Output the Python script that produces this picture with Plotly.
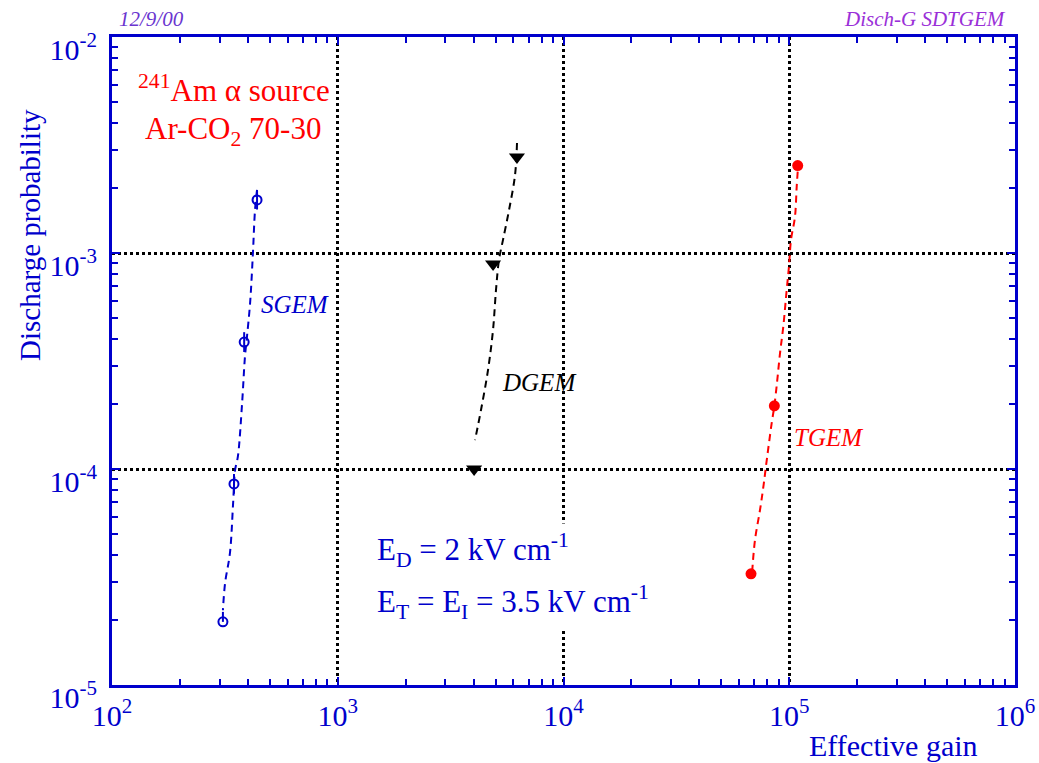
import plotly.graph_objects as go

# ---------------- data ----------------
sgem_gain = [439, 385, 347, 310]
sgem_prob = [1.76e-3, 3.87e-4, 8.53e-5, 1.96e-5]
sgem_err_up = [1.9e-4, 4.3e-5, 9.5e-6, 2.2e-6]
sgem_err_dn = [1.7e-4, 3.9e-5, 8.5e-6, 0.0]

sgem_fit_gain = [439, 430, 421, 409, 396, 388, 377, 361, 351, 344, 333, 317, 310]
sgem_fit_prob = [1.96e-3, 1.58e-3, 1.0e-3, 5.87e-4, 4.08e-4, 3.30e-4, 2.02e-4,
                 1.14e-4, 9.9e-5, 6.97e-5, 4.08e-5, 2.97e-5, 2.22e-5]

dgem_gain = [6220, 4875, 4018]
dgem_prob = [2.78e-3, 8.9e-4, 1.0e-4]

dgem_fit_gain = [6223, 6100, 5737, 5395, 5179, 5024, 4873, 4630, 4312, 4055]
dgem_fit_prob = [3.23e-3, 2.30e-3, 1.58e-3, 1.15e-3, 9.29e-4, 6.75e-4, 4.40e-4,
                 2.87e-4, 1.88e-4, 1.36e-4]

tgem_gain = [1.09e5, 8.59e4, 6.77e4]
tgem_prob = [2.54e-3, 1.96e-4, 3.27e-5]

tgem_fit_gain = [1.090e5, 1.079e5, 1.060e5, 1.018e5, 9.97e4, 9.74e4, 9.41e4, 9.10e4,
                 8.85e4, 8.59e4, 8.36e4, 7.95e4, 7.68e4, 7.42e4, 7.05e4, 6.86e4]
tgem_fit_prob = [2.38e-3, 2.03e-3, 1.47e-3, 1.15e-3, 8.64e-4, 6.74e-4, 4.56e-4, 3.43e-4,
                 2.58e-4, 1.96e-4, 1.63e-4, 1.10e-4, 8.28e-5, 6.46e-5, 4.69e-5, 3.41e-5]

x_tick_vals = [1e2, 1e3, 1e4, 1e5, 1e6]
x_tick_text = ["10<sup>2</sup>", "10<sup>3</sup>", "10<sup>4</sup>", "10<sup>5</sup>", "10<sup>6</sup>"]
y_tick_vals = [1e-5, 1e-4, 1e-3, 1e-2]
y_tick_text = ["10<sup>-5</sup>", "10<sup>-4</sup>", "10<sup>-3</sup>", "10<sup>-2</sup>"]

# ---------------- style ----------------
BLUE = "#0000CC"
RED = "#FF0000"
BLACK = "#000000"
SERIF = "Liberation Serif"

x_minor = [m * 10 ** e for e in range(2, 6) for m in range(2, 10)]
y_minor = [m * 10.0 ** e for e in range(-5, -2) for m in range(2, 10)]

fig = go.Figure()

# fitted curves
fig.add_trace(go.Scatter(x=sgem_fit_gain, y=sgem_fit_prob, mode="lines",
                         line=dict(color=BLUE, width=2, dash="7px,5px", shape="spline"),
                         showlegend=False, hoverinfo="skip"))
fig.add_trace(go.Scatter(x=dgem_fit_gain, y=dgem_fit_prob, mode="lines",
                         line=dict(color=BLACK, width=2, dash="7px,5px", shape="spline"),
                         showlegend=False, hoverinfo="skip"))
fig.add_trace(go.Scatter(x=tgem_fit_gain, y=tgem_fit_prob, mode="lines",
                         line=dict(color=RED, width=2, dash="7px,5px", shape="spline"),
                         showlegend=False, hoverinfo="skip"))

# markers
fig.add_trace(go.Scatter(x=sgem_gain, y=sgem_prob, mode="markers",
                         marker=dict(symbol="circle-open", size=9, color=BLUE,
                                     line=dict(width=2, color=BLUE)),
                         error_y=dict(type="data", array=sgem_err_up, arrayminus=sgem_err_dn,
                                      color=BLUE, thickness=2, width=0),
                         showlegend=False))
fig.add_trace(go.Scatter(x=dgem_gain, y=dgem_prob, mode="markers",
                         marker=dict(symbol="triangle-down", size=14, color=BLACK),
                         showlegend=False))
fig.add_trace(go.Scatter(x=tgem_gain, y=tgem_prob, mode="markers",
                         marker=dict(symbol="circle", size=11, color=RED),
                         showlegend=False))

axis_common = dict(
    type="log", automargin=False,
    showline=True, linecolor=BLUE, linewidth=3, mirror="allticks",
    ticks="inside", ticklen=8, tickwidth=2, tickcolor=BLUE,
    showgrid=True, gridcolor=BLACK, gridwidth=3, griddash="dot",
    zeroline=False,
    tickfont=dict(family=SERIF, size=30, color=BLUE),
    tickmode="array",
)

fig.update_xaxes(**axis_common, range=[2, 6], tickvals=x_tick_vals, ticktext=x_tick_text,
                 minor=dict(tickmode="array", tickvals=x_minor, ticks="inside", ticklen=6,
                            tickwidth=2, tickcolor=BLUE, showgrid=False),
                 ticklabelstandoff=2)
fig.update_yaxes(**axis_common, range=[-5, -2], tickvals=y_tick_vals, ticktext=y_tick_text,
                 minor=dict(tickmode="array", tickvals=y_minor, ticks="inside", ticklen=6,
                            tickwidth=2, tickcolor=BLUE, showgrid=False),
                 ticklabelstandoff=6, ticklabelshift=12)

L, R, T, B = 112, 24, 37, 78
W, H = 1039, 763
pw, ph = W - L - R, H - T - B


def px(x):
    return (x - L) / pw


def py(y):
    return (H - B - y) / ph


annotations = [
    dict(text="<sup>241</sup>Am α source", x=px(234), y=py(88), font=dict(size=31, color=RED)),
    dict(text="Ar-CO<sub>2</sub> 70-30", x=px(233), y=py(131), font=dict(size=31, color=RED)),
    dict(text="<i>SGEM</i>", x=px(259), y=py(305), xanchor="left", font=dict(size=25, color=BLUE)),
    dict(text="<i>DGEM</i>", x=px(500), y=py(383), xanchor="left", font=dict(size=25, color=BLACK)),
    dict(text="<i>TGEM</i>", x=px(792), y=py(437), xanchor="left", font=dict(size=25, color=RED)),
    dict(text="E<sub>D</sub> = 2 kV cm<sup>-1</sup>", x=px(372), y=py(550), xanchor="left",
         font=dict(size=31, color=BLUE), bgcolor="white", borderpad=4),
    dict(text="E<sub>T</sub> = E<sub>I</sub> = 3.5 kV cm<sup>-1</sup>", x=px(372), y=py(602),
         xanchor="left", font=dict(size=31, color=BLUE), bgcolor="white", borderpad=4),
    dict(text="Discharge probability", x=px(30), y=py(235), textangle=-90,
         font=dict(size=29, color=BLUE)),
    dict(text="Effective gain", x=px(980), y=py(745), xanchor="right",
         font=dict(size=30, color=BLUE)),
    dict(text="<i>12/9/00</i>", x=px(117), y=py(19), xanchor="left",
         font=dict(size=21, color="#6a35d0")),
    dict(text="<i>Disch-G SDTGEM</i>", x=px(1008), y=py(19), xanchor="right",
         font=dict(size=21, color="#9a2fd8")),
]
for a in annotations:
    a.setdefault("xanchor", "center")
    a.update(xref="paper", yref="paper", showarrow=False, yanchor="middle")
    a["font"]["family"] = SERIF

fig.update_layout(
    width=W, height=H,
    margin=dict(l=L, r=R, t=T, b=B),
    plot_bgcolor="white", paper_bgcolor="white",
    annotations=annotations,
    showlegend=False,
)

fig.write_html("out.html",
               config={"displayModeBar": False},
               post_script="document.body.style.margin='0';document.body.style.overflow='hidden';")
